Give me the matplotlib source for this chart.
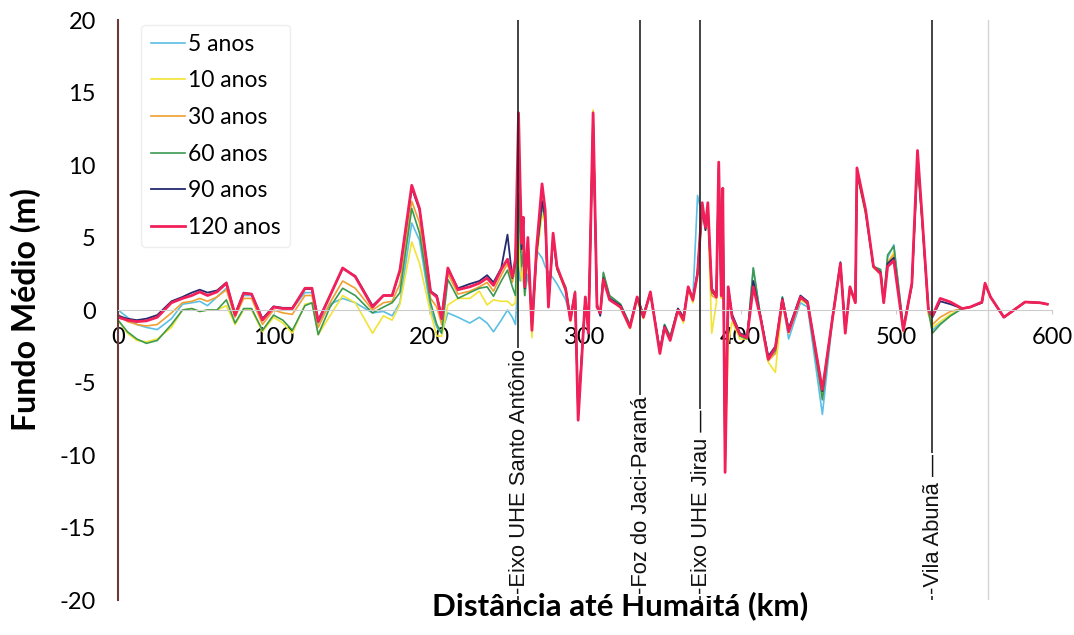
import matplotlib
matplotlib.use("Agg")
import matplotlib.pyplot as plt

plt.rcParams["axes.unicode_minus"] = False

# distance to Humaita (km)
km = [
    0, 6.05, 12.1, 18.2, 25.2, 34.3, 41.4, 47.4, 52.5, 57.5,
    63.6, 69.6, 75.2, 80.7, 85.8, 92.8, 99.9, 105.9, 112, 120.1,
    124.6, 128.6, 136.2, 144.3, 152.4, 163.5, 170.5, 176.1, 181.1, 188.7,
    193.7, 200.8, 204.8, 207.9, 211.9, 218.4, 226, 232.1, 237.1, 241.2,
    246.2, 250.2, 253.3, 255.3, 257.3, 258.3, 259.3, 260.3, 261.3, 263.3,
    265.9, 268.9, 272.4, 274.4, 276.5, 279.5, 282, 287.6, 290.6, 293.6,
    295.6, 300.2, 302.2, 305.2, 307.7, 309.8, 311.8, 315.8, 322.9, 328.9,
    333.5, 337.5, 342, 348.1, 351.1, 354.7, 359.7, 363.2, 366.3, 369.3,
    372.3, 375.3, 377.4, 378.9, 381.4, 384.4, 385.9, 387.5, 388.5, 390,
    392, 394.5, 399.6, 404.1, 408.1, 412.7, 417.7, 422.3, 426.8, 430.8,
    438.4, 443, 452.5, 459.1, 464.1, 467.2, 470.2, 473.7, 474.7, 480.3,
    485.3, 489.9, 491.9, 494.4, 498.4, 504.5, 510, 513.6, 516.6, 520.6,
    523.2, 528.2, 534.8, 542.3, 547.4, 555, 557, 560.5, 569.1, 582.7,
    592.3, 597,
]

anos_5 = [
    0.0, -0.5, -1.0, -1.2, -1.35, -0.6, 0.4, 0.5, 0.6, 0.3,
    0.9, 1.5, -0.2, 1.0, 1.0, -0.6, 0.2, 0.1, 0.1, 1.2,
    1.2, -0.9, 0.4, 0.8, 0.5, -0.2, -0.1, -0.4, 0.5, 6.0,
    4.8, 0.0, -1.2, -1.6, -0.2, -0.5, -0.9, -0.5, -0.9, -1.5,
    -0.7, 0.0, -0.5, -1.0, 3.0, 2.0, 3.0, 2.2, 1.0, 2.5,
    0.0, 4.1, 3.6, 3.0, 2.6, 2.2, 1.8, 0.7, -0.5, 1.1,
    -7.0, 0.8, -1.4, 13.0, 0.4, -0.2, 2.5, 0.9, 0.3, -1.1,
    0.8, -0.3, 1.1, -2.8, -1.0, -1.9, 0.1, -0.5, 1.5, 0.8,
    7.9, 6.5, 6.0, 6.5, 1.5, 1.0, 9.5, 1.1, 7.8, -10.0,
    1.5, -0.4, -1.8, -1.9, 2.9, -0.4, -3.2, -3.0, 0.9, -2.0,
    0.5, 0.2, -7.2, -0.6, 3.0, -1.3, 1.4, 0.6, 9.4, 6.6,
    3.0, 2.7, 0.6, 3.6, 4.5, -1.2, 1.6, 10.0, 6.0, 0.2,
    -1.4, -0.9, -0.4, 0.1, 0.2, 0.5, 1.8, 0.9, -0.5, 0.55,
    0.5, 0.4,
]

anos_10 = [
    -0.7, -1.6, -2.1, -2.2, -2.0, -1.2, 0.0, 0.1, -0.1, 0.0,
    0.0, 0.3, -1.0, 0.0, 0.0, -1.5, -0.5, -0.9, -1.6, 0.4,
    0.5, -1.7, -0.4, 1.0, 0.5, -1.6, -0.4, -0.7, 0.4, 4.7,
    3.2, -0.2, -1.8, -1.8, 0.35, 0.8, 0.8, 1.3, 0.35, 0.7,
    0.6, 0.6, 0.3, 0.5, 5.0, 3.0, 2.0, 3.0, 1.0, 4.0,
    -1.9, 3.5, 6.6, 6.0, 0.5, 5.0, 2.8, 1.3, -0.8, 1.1,
    -7.0, 0.8, -1.5, 13.8, 0.3, -0.3, 2.4, 0.8, 0.1, -1.3,
    0.7, -0.6, 1.1, -2.9, -1.3, -2.0, -0.1, -0.9, 1.4, 0.5,
    2.3, 6.8, 5.5, 6.8, -1.6, 0.5, 9.6, 0.8, 7.8, -10.5,
    -2.3, -0.8, -2.0, -2.0, 1.8, -0.6, -3.6, -4.3, 0.6, -1.6,
    0.7, 0.4, -5.8, -0.6, 3.0, -1.5, 1.4, 0.5, 9.4, 6.6,
    2.9, 2.5, 0.5, 3.2, 4.0, -1.3, 1.7, 10.2, 6.0, -0.3,
    -1.2, -0.8, -0.3, 0.1, 0.2, 0.5, 1.8, 0.9, -0.5, 0.55,
    0.5, 0.4,
]

anos_30 = [
    -0.3, -0.8, -1.0, -1.1, -1.0, -0.2, 0.5, 0.6, 0.8, 0.6,
    0.9, 1.4, -0.5, 0.8, 0.8, -1.0, 0.0, -0.2, -0.3, 1.0,
    1.0, -1.2, 0.5, 2.0, 1.5, 0.0, 0.5, 0.6, 1.8, 7.5,
    6.0, 0.8, 0.2, -1.0, 2.5, 1.1, 1.3, 1.6, 1.9, 1.3,
    2.4, 3.2, 1.9, 2.8, 12.0, 7.5, 4.0, 5.5, 1.5, 4.5,
    -1.3, 4.0, 7.8, 6.5, 0.3, 5.1, 2.9, 1.4, -0.7, 1.2,
    -7.4, 0.9, -1.5, 13.5, 0.3, -0.2, 2.2, 0.8, 0.2, -1.2,
    0.9, -0.5, 1.2, -3.0, -1.2, -2.0, 0.0, -0.7, 1.5, 0.6,
    2.5, 7.2, 5.6, 7.2, 1.0, 0.8, 10.0, 0.9, 8.2, -11.0,
    1.2, -0.6, -1.8, -1.9, 2.0, -0.5, -3.5, -3.0, 0.7, -1.5,
    0.8, 0.5, -5.6, -0.5, 3.1, -1.6, 1.5, 0.5, 9.6, 6.8,
    3.0, 2.5, 0.5, 3.3, 3.8, -1.5, 1.8, 10.8, 6.3, -0.2,
    -1.0, -0.5, -0.1, 0.1, 0.2, 0.55, 1.85, 0.9, -0.5, 0.55,
    0.5, 0.4,
]

anos_60 = [
    -0.7, -1.5, -2.0, -2.3, -2.1, -1.0, 0.0, 0.1, -0.1, 0.0,
    0.0, 0.7, -0.9, 0.1, 0.1, -1.4, -0.35, -0.7, -1.4, 0.3,
    0.5, -1.7, 0.2, 1.5, 1.0, -0.2, 0.2, 0.5, 1.2, 7.0,
    5.3, 0.5, -1.0, -1.6, 2.1, 0.8, 1.2, 1.5, 1.6, 0.95,
    2.0, 2.75, 1.6, 1.0, 8.0, 5.0, 3.0, 4.0, 1.0, 4.0,
    -1.0, 3.8, 7.2, 6.2, 0.4, 5.0, 2.8, 1.6, -0.5, 1.3,
    -7.0, 0.9, -1.4, 13.2, 0.4, -0.2, 2.6, 1.0, 0.4, -1.0,
    0.9, -0.3, 1.2, -2.8, -1.0, -1.8, 0.1, -0.5, 1.6, 0.8,
    2.6, 7.0, 5.8, 7.0, 1.2, 1.0, 9.6, 1.1, 7.8, -10.0,
    1.4, -0.5, -1.8, -2.0, 2.9, -0.4, -3.3, -2.8, 0.9, -1.4,
    0.9, 0.4, -6.2, -0.5, 3.2, -1.5, 1.6, 0.6, 9.5, 6.8,
    3.0, 2.8, 0.7, 3.8, 4.4, -1.2, 1.7, 10.4, 6.2, 0.0,
    -1.6, -1.0, -0.4, 0.1, 0.2, 0.5, 1.8, 0.9, -0.5, 0.55,
    0.5, 0.4,
]

anos_90 = [
    -0.4, -0.6, -0.7, -0.6, -0.35, 0.6, 0.9, 1.2, 1.4, 1.2,
    1.35, 1.9, -0.3, 1.2, 1.1, -0.6, 0.25, 0.15, 0.15, 1.45,
    1.45, -0.7, 1.0, 2.85, 2.35, 0.3, 1.0, 1.0, 2.7, 8.4,
    6.9, 1.3, 1.0, -0.4, 2.8, 1.5, 1.8, 2.0, 2.4, 1.9,
    2.9, 5.2, 2.2, 3.2, 11.5, 8.0, 4.2, 6.0, 1.5, 4.6,
    -1.2, 4.0, 7.5, 6.5, 0.4, 5.0, 2.9, 1.4, -0.6, 1.1,
    -7.2, 0.8, -1.4, 13.0, 0.3, -0.4, 2.2, 0.8, 0.3, -1.1,
    0.9, -0.4, 1.2, -2.8, -1.1, -2.0, 0.1, -0.5, 1.5, 0.8,
    2.6, 7.0, 5.5, 7.0, 1.5, 1.0, 9.8, 1.1, 8.0, -10.5,
    1.5, -0.3, -1.6, -1.8, 2.0, -0.4, -3.2, -2.5, 0.8, -1.3,
    1.0, 0.6, -5.6, -0.4, 3.3, -1.4, 1.5, 0.6, 9.5, 6.8,
    3.0, 2.6, 0.6, 3.2, 3.6, -1.3, 1.8, 10.5, 6.2, 0.1,
    -0.5, 0.6, 0.4, 0.1, 0.2, 0.5, 1.8, 0.9, -0.5, 0.55,
    0.5, 0.4,
]

anos_120 = [
    -0.5, -0.7, -0.8, -0.75, -0.5, 0.5, 0.8, 1.0, 1.25, 1.0,
    1.25, 1.85, -0.35, 1.15, 1.1, -0.7, 0.2, 0.1, 0.1, 1.5,
    1.5, -0.8, 1.0, 2.9, 2.3, 0.2, 1.0, 1.0, 2.75, 8.6,
    7.0, 1.25, 0.9, -0.6, 2.9, 1.4, 1.6, 1.85, 2.2, 1.7,
    2.8, 3.5, 2.3, 3.5, 13.6, 8.7, 4.6, 6.4, 1.6, 5.0,
    -1.4, 4.3, 8.7, 6.9, 0.2, 5.3, 3.0, 1.4, -0.7, 1.2,
    -7.6, 0.9, -1.6, 13.6, 0.2, -0.2, 2.1, 0.7, 0.2, -1.2,
    0.9, -0.5, 1.25, -3.0, -1.2, -2.1, 0.0, -0.7, 1.6, 0.7,
    2.5, 7.4, 5.7, 7.4, 1.4, 0.9, 10.2, 1.0, 8.4, -11.2,
    1.6, -0.5, -1.7, -1.9, 1.6, -0.5, -3.4, -2.6, 0.7, -1.5,
    0.9, 0.5, -5.5, -0.5, 3.2, -1.6, 1.6, 0.5, 9.8, 6.9,
    3.0, 2.5, 0.5, 3.0, 3.4, -1.4, 1.85, 11.0, 6.4, 0.0,
    -0.4, 0.8, 0.55, 0.1, 0.2, 0.55, 1.85, 0.9, -0.5, 0.55,
    0.5, 0.4,
]

series_names = ["5 anos", "10 anos", "30 anos", "60 anos", "90 anos", "120 anos"]
series_values = [anos_5, anos_10, anos_30, anos_60, anos_90, anos_120]
colors = ["#5bbfe6", "#f2e436", "#f0a030", "#3c9a50", "#232a6e", "#f2205a"]
widths = [1.2, 1.2, 1.2, 1.2, 1.3, 2.0]

# reference points along the river
marker_km = [257, 335.5, 374, 523]
marker_names = ["-Eixo UHE Santo Antônio", "-Foz do Jaci-Paraná",
                "-Eixo UHE Jirau —", "-Vila Abunã —"]

fig = plt.figure(figsize=(10.74, 6.35), dpi=100)
ax = fig.add_axes([0.1099, 0.0551, 0.8696, 0.9134])

for name, vals, c, lw in zip(series_names, series_values, colors, widths):
    ax.plot(km, vals, color=c, lw=lw, label=name)

for xk, name in zip(marker_km, marker_names):
    ax.plot([xk, xk], [-20, 20], color="#222222", lw=1.2, zorder=5)
    ax.text(xk + 1, -19.6, name, rotation=90, ha="center", va="bottom",
            fontsize=15.8, family="Liberation Sans", color="#111111", zorder=6,
            bbox=dict(facecolor="white", edgecolor="none", pad=1))

ax.axvline(559, color="#d4d4d4", lw=1.0, zorder=1)

ax.set_xlim(0, 600)
ax.set_ylim(-20, 20)
ax.set_xticks([0, 100, 200, 300, 400, 500, 600])
ax.set_yticks([-20, -15, -10, -5, 0, 5, 10, 15, 20])
ax.set_yticklabels([str(v) for v in [-20, -15, -10, -5, 0, 5, 10, 15, 20]])

for s in ["top", "right"]:
    ax.spines[s].set_visible(False)
ax.spines["bottom"].set_position(("data", 0))
ax.spines["bottom"].set_color("#cccccc")
ax.spines["left"].set_color("#6b3a3a")
ax.spines["left"].set_linewidth(1.5)

ax.tick_params(axis="x", length=3, color="#cccccc", pad=9, labelsize=17)
ax.tick_params(axis="y", length=0, pad=16, labelsize=17)
for lab in ax.get_xticklabels() + ax.get_yticklabels():
    lab.set_family("Lato")

ax.set_ylabel("Fundo Médio (m)", fontsize=23, fontweight="bold", family="Lato")
ax.yaxis.set_label_coords(-0.083, 0.5)
ax.set_xlabel("Distância até Humaitá (km)", fontsize=22.5, fontweight="bold", family="Lato")
ax.xaxis.set_label_coords(0.5375, 0.016)

leg = ax.legend(loc="upper left", bbox_to_anchor=(0.025, 0.992),
                prop={"family": "Lato", "size": 16.5}, frameon=True,
                handlelength=1.5, handletextpad=0.15, labelspacing=0.68,
                borderaxespad=0)
leg.get_frame().set_edgecolor("#eeeeee")
leg.get_frame().set_facecolor("white")
leg.get_frame().set_alpha(1)

fig.savefig("out.png", dpi=100)
